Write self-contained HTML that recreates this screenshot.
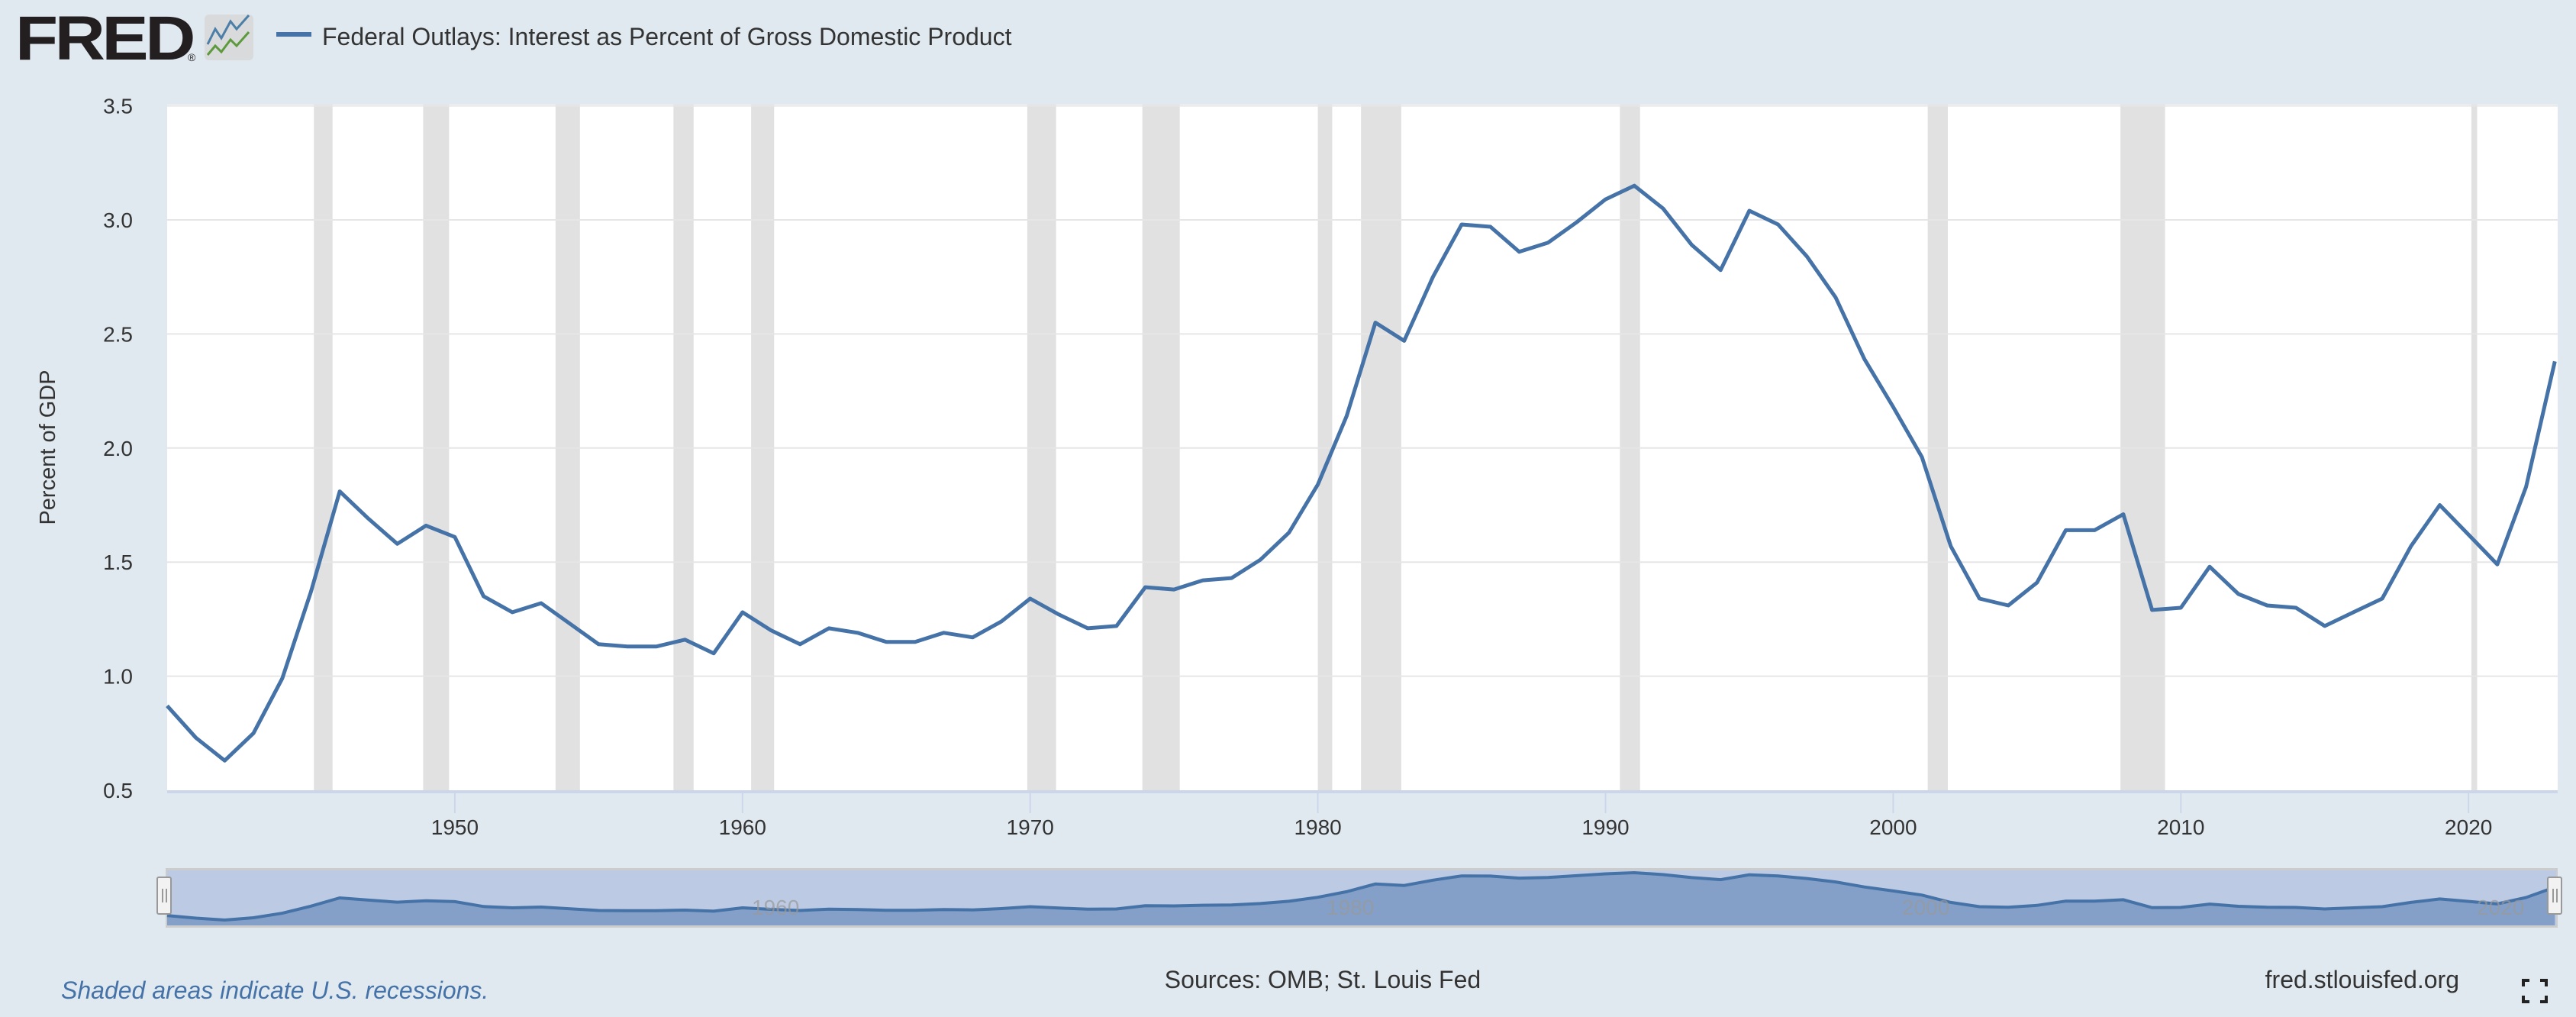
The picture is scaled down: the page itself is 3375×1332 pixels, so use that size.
<!DOCTYPE html>
<html><head><meta charset="utf-8"><style>
html,body{margin:0;padding:0;background:#e1e9f0;}
svg{display:block;font-family:"Liberation Sans",sans-serif;}
</style></head><body>
<svg id="s" width="3375" height="1332" viewBox="0 0 3375 1332" xmlns="http://www.w3.org/2000/svg">
<rect width="3375" height="1332" fill="#e1e9f0"/>
<text x="20" y="78" font-size="82" font-weight="bold" fill="#231f20" letter-spacing="-4" textLength="232" lengthAdjust="spacingAndGlyphs">FRED</text>
<text x="246" y="80" font-size="14" fill="#231f20">®</text>
<rect x="268" y="19" width="64" height="60" rx="6" fill="#d8dadc"/>
<polyline points="272,58 282,38 290,50 302,28 310,38 326,20" fill="none" stroke="#4b7fa8" stroke-width="3"/>
<polyline points="272,72 282,60 290,68 302,52 310,60 326,42" fill="none" stroke="#5c9a3c" stroke-width="3"/>
<rect x="362" y="42" width="46" height="6" fill="#4572a7"/>
<text x="422" y="59" font-size="32" fill="#333">Federal Outlays: Interest as Percent of Gross Domestic Product</text>
<rect x="219" y="137" width="3132" height="898" fill="#fff"/>
<g id="rec" fill="#e1e1e1"></g>
<g id="grid" stroke="#e6e6e6" stroke-width="2"></g>
<g id="ylab" font-size="28" fill="#333" text-anchor="end"></g>
<rect x="219" y="1035" width="3132" height="4" fill="#ccd6eb"/>
<g id="xlab" font-size="28" fill="#333" text-anchor="middle"></g>
<text transform="translate(72,586) rotate(-90)" font-size="29" fill="#333" text-anchor="middle">Percent of GDP</text>
<path id="line" fill="none" stroke="#4572a7" stroke-width="5" stroke-linejoin="round"/>
<rect x="217" y="1137" width="3134" height="78" fill="#cccccc"/>
<rect x="219" y="1140" width="3130" height="72" fill="#bccae3"/>
<path id="nav" fill="#84a0c8" stroke="none"/>
<path id="navl" fill="none" stroke="#4572a7" stroke-width="4"/>
<g font-size="28" fill="#999" opacity="0.7">
<text x="985" y="1198">1960</text><text x="1738" y="1198">1980</text><text x="2492" y="1198">2000</text><text x="3245" y="1198">2020</text></g>
<rect x="206" y="1149" width="18" height="48" rx="2" fill="#f2f2f2" stroke="#999" stroke-width="2"/>
<rect x="3338" y="1149" width="18" height="48" rx="2" fill="#f2f2f2" stroke="#999" stroke-width="2"/>
<line x1="213" y1="1164" x2="213" y2="1182" stroke="#999" stroke-width="2"/><line x1="218" y1="1164" x2="218" y2="1182" stroke="#999" stroke-width="2"/>
<line x1="3345" y1="1164" x2="3345" y2="1182" stroke="#999" stroke-width="2"/><line x1="3350" y1="1164" x2="3350" y2="1182" stroke="#999" stroke-width="2"/>
<text x="80" y="1308" font-size="32" font-style="italic" fill="#4572a7">Shaded areas indicate U.S. recessions.</text>
<text x="1733" y="1294" font-size="32" fill="#333" text-anchor="middle">Sources: OMB; St. Louis Fed</text>
<text x="3222" y="1294" font-size="32" fill="#333" text-anchor="end">fred.stlouisfed.org</text>
<g stroke="#222" stroke-width="4" fill="none">
<polyline points="3306,1292 3306,1284 3314,1284"/><polyline points="3328,1284 3336,1284 3336,1292"/>
<polyline points="3306,1304 3306,1312 3314,1312"/><polyline points="3328,1312 3336,1312 3336,1304"/></g>
</svg>
<script>
var ns="http://www.w3.org/2000/svg";
function X(y){return 219+(y-1940)*37.69;}
function Y(v){return 1035-(v-0.5)*298.8;}
function el(p,t,a,txt){var e=document.createElementNS(ns,t);for(var k in a)e.setAttribute(k,a[k]);if(txt)e.textContent=txt;document.getElementById(p).appendChild(e);}
var rec=[[1945.1,1945.75],[1948.9,1949.8],[1953.5,1954.35],[1957.6,1958.3],[1960.3,1961.1],[1969.9,1970.9],[1973.9,1975.2],[1980.0,1980.5],[1981.5,1982.9],[1990.5,1991.2],[2001.2,2001.9],[2007.9,2009.45],[2020.1,2020.3]];
rec.forEach(function(r){el("rec","rect",{x:X(r[0]),y:137,width:X(r[1])-X(r[0]),height:898});});
for(var v=1;v<=3.5;v+=0.5){el("grid","line",{x1:219,x2:3351,y1:Y(v),y2:Y(v)});}
for(var v=0.5;v<=3.5;v+=0.5){el("ylab","text",{x:174,y:Y(v)+10},v.toFixed(1));}
for(var y=1950;y<=2020;y+=10){el("xlab","line",{x1:X(y),x2:X(y),y1:1039,y2:1065,stroke:"#ccd6eb","stroke-width":2});el("xlab","text",{x:X(y),y:1093},""+y);}
var d=[0.87,0.73,0.63,0.75,0.99,1.37,1.81,1.69,1.58,1.66,1.61,1.35,1.28,1.32,1.23,1.14,1.13,1.13,1.16,1.10,1.28,1.20,1.14,1.21,1.19,1.15,1.15,1.19,1.17,1.24,1.34,1.27,1.21,1.22,1.39,1.38,1.42,1.43,1.51,1.63,1.84,2.14,2.55,2.47,2.75,2.98,2.97,2.86,2.90,2.99,3.09,3.15,3.05,2.89,2.78,3.04,2.98,2.84,2.66,2.39,2.18,1.96,1.57,1.34,1.31,1.41,1.64,1.64,1.71,1.29,1.30,1.48,1.36,1.31,1.30,1.22,1.28,1.34,1.57,1.75,1.62,1.49,1.83,2.38];
var p="",q="";
d.forEach(function(v,i){var x=X(1940+i);p+=(i?"L":"M")+x.toFixed(1)+","+Y(v).toFixed(1);q+=(i?"L":"M")+x.toFixed(1)+","+(1205-(v-0.63)*24.6).toFixed(1);});
document.getElementById("line").setAttribute("d",p);
document.getElementById("navl").setAttribute("d",q);
document.getElementById("nav").setAttribute("d",q+"L"+X(2023)+",1212L219,1212Z");
</script>
</body></html>
